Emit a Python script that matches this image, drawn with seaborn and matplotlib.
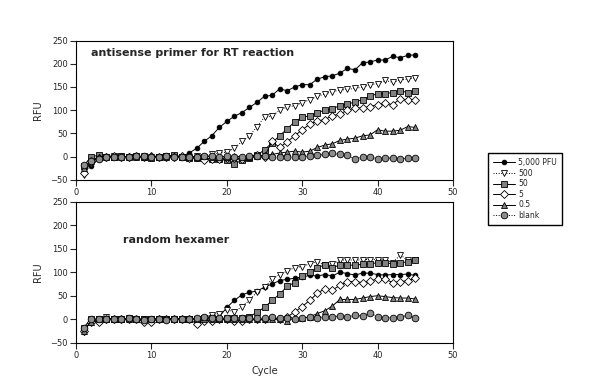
import numpy as np
import pandas as pd
import matplotlib
matplotlib.use("Agg")
import matplotlib.pyplot as plt
import seaborn as sns

cycles = list(range(1, 46))

# ---- top panel: antisense primer for RT reaction ----
top_5000 = [-25, -20, -5, 0, 1, 0, 1, 0, 0, 1, 0, 0, 1, 0, 8, 18, 33, 45, 63, 76,
            87, 95, 106, 117, 130, 132, 146, 142, 150, 155, 155, 167, 172, 174, 180,
            190, 187, 202, 204, 208, 208, 216, 213, 218, 219]
top_500 = [-40, -15, -3, 0, 1, 0, -1, 0, 1, 0, 0, 1, 0, -1, 0, 1, 0, 5, 8, 10,
           18, 33, 45, 65, 85, 87, 100, 107, 110, 116, 123, 130, 135, 140, 143,
           145, 147, 150, 155, 157, 164, 160, 165, 167, 170]
top_50 = [-20, 0, 3, 0, 0, 1, 0, 1, 0, -2, 0, 1, 4, 0, -2, -2, -2, -5, -5, -8,
          -15, -8, -2, 3, 15, 30, 45, 60, 75, 85, 88, 95, 100, 103, 110,
          114, 117, 123, 130, 136, 136, 138, 142, 138, 142]
top_5 = [-35, -10, -3, 0, 2, -1, 0, 1, 0, 2, 0, -1, 0, 1, -2, 0, -8, -5, -5, -3,
         -3, -5, 0, 3, 0, 33, 20, 32, 45, 58, 70, 77, 80, 88, 92,
         100, 105, 105, 108, 112, 115, 112, 125, 122, 123]
top_05 = [-25, -10, 0, 1, 0, 0, 1, 0, 0, 1, 0, 0, 1, 0, 0, 0, 1, 0, 0, 0,
          1, 0, 0, 2, 3, 5, 8, 10, 12, 10, 12, 20, 25, 28, 35,
          38, 40, 45, 47, 58, 55, 55, 57, 65, 63]
top_blank = [-18, -10, -5, 0, -1, 0, 0, 2, 1, 0, 0, 1, 0, 0, 0, 0, 2, 1, 0, 1,
             0, 0, 2, 2, 1, 0, 0, 0, -1, 0, 2, 3, 5, 7, 5,
             3, -5, 0, 0, -5, -3, -3, -5, -3, -2]

# ---- bottom panel: random hexamer ----
bot_5000 = [-25, -5, 0, 1, 0, 0, 1, 0, 0, 1, 0, 0, 1, 0, 0, 1, 2, 3, 5, 25,
            40, 52, 57, 60, 68, 75, 82, 85, 87, 90, 93, 92, 95, 92, 100,
            97, 94, 98, 98, 95, 94, 95, 95, 96, 93]
bot_500 = [-27, -5, 0, 5, 0, 0, 1, 0, 0, 1, 0, 0, 1, 0, 0, 1, 2, 10, 12, 20,
           15, 27, 40, 58, 68, 85, 95, 102, 110, 112, 118, 122, 115, 118, 125,
           127, 125, 127, 127, 127, 127, 120, 137, 125, 127]
bot_50 = [-18, 0, 0, 1, 0, 0, 2, 0, 0, 1, 0, 0, 1, 0, 0, 1, 3, 2, 0, 2,
          3, 3, 5, 15, 25, 40, 53, 70, 78, 92, 100, 110, 115, 110, 115,
          115, 115, 117, 118, 120, 120, 118, 120, 122, 125]
bot_5 = [-25, -5, -5, 0, 0, 0, 0, 0, -5, -5, 0, 0, 0, 0, 0, -10, -3, -3, 0, 0,
         -3, -3, 0, 0, 0, 3, 0, 5, 15, 27, 40, 55, 65, 62, 72,
         80, 80, 78, 82, 85, 85, 78, 80, 82, 87]
bot_05 = [-25, -5, 0, 1, 0, 0, 1, 0, 0, 1, 0, 0, 1, 0, 0, 1, 0, 0, 1, 0,
          0, 0, 1, 0, 0, 1, 0, -3, 2, 2, 5, 12, 18, 28, 42,
          42, 42, 45, 48, 50, 48, 46, 45, 45, 43]
bot_blank = [-18, 0, 1, 0, 0, 1, 2, 0, -2, 0, 0, -1, 0, 1, 0, 3, 5, 3, 2, 3,
             3, 2, 3, 2, 2, 5, 3, 3, 0, 3, 5, 3, 5, 5, 7,
             5, 8, 7, 13, 5, 3, 3, 5, 8, 2]

labels = ["5,000 PFU", "500", "50", "5", "0.5", "blank"]
top_series = [top_5000, top_500, top_50, top_5, top_05, top_blank]
bot_series = [bot_5000, bot_500, bot_50, bot_5, bot_05, bot_blank]

# marker, face colour, line style, marker size for each dilution
styles = [
    ("o", "black", "-", 3.4),
    ("v", "white", ":", 4.8),
    ("s", "#808080", "-", 4.3),
    ("D", "white", "-", 3.8),
    ("^", "#808080", "-", 4.8),
    ("o", "#8c8c8c", ":", 4.8),
]

sns.set_style("ticks")
plt.rcParams["font.family"] = ["DejaVu Sans"]

fig = plt.figure(figsize=(5.98, 3.87), dpi=100)
ax_top = fig.add_axes([76 / 598, 1 - 180 / 387, 377 / 598, 139.5 / 387])
ax_bot = fig.add_axes([76 / 598, 1 - 342.7 / 387, 377 / 598, 141 / 387])

for ax, series in [(ax_top, top_series), (ax_bot, bot_series)]:
    for lab, vals, (mk, fc, ls, ms) in zip(labels, series, styles):
        sns.lineplot(x=cycles, y=vals, ax=ax, color="black", linewidth=0.7,
                     linestyle=ls, marker=mk, markersize=ms, markerfacecolor=fc,
                     markeredgecolor="black", markeredgewidth=0.6, label=lab)
    ax.set_xlim(0, 50)
    ax.set_ylim(-50, 250)
    ax.set_xticks(range(0, 51, 10))
    ax.set_yticks(range(-50, 251, 50))
    ax.tick_params(labelsize=6, length=4, width=0.8, direction="out", pad=2)
    for sp in ax.spines.values():
        sp.set_visible(True)
        sp.set_linewidth(0.8)
        sp.set_color("black")
    ax.set_ylabel("RFU", fontsize=7, labelpad=5)
    ax.set_xlabel("")

handles, _ = ax_top.get_legend_handles_labels()
ax_top.get_legend().remove()
ax_bot.get_legend().remove()

ax_top.text(2.0, 223, "antisense primer for RT reaction", fontsize=8,
            fontweight="bold", va="center", ha="left")
ax_bot.text(6.2, 169, "random hexamer", fontsize=8,
            fontweight="bold", va="center", ha="left")
ax_bot.set_xlabel("Cycle", fontsize=7, labelpad=4)

fig.legend(handles, labels, loc="upper left",
           bbox_to_anchor=(484 / 598, 1 - 149 / 387), fontsize=5.5,
           frameon=True, fancybox=False, edgecolor="black", framealpha=1,
           handlelength=2.8, borderpad=0.7, labelspacing=0.2, handletextpad=0.5)

fig.savefig("out.png", dpi=100)
